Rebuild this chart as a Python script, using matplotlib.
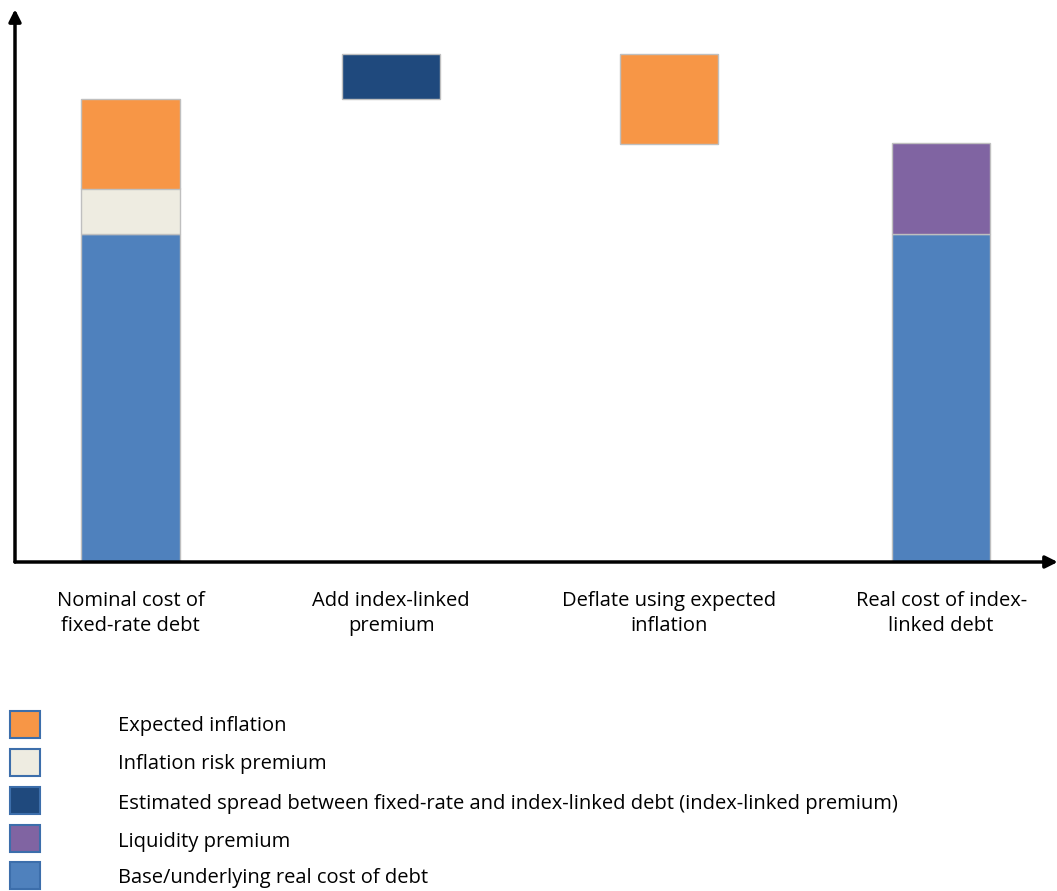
import matplotlib.pyplot as plt
from matplotlib.patches import Rectangle
import numpy as np

# categories and component values (units: % points, roughly)
categories = ["Nominal cost of\nfixed-rate debt", "Add index-linked\npremium",
              "Deflate using expected\ninflation", "Real cost of index-\nlinked debt"]
base_cost = 3.65
inflation_risk = 0.5
expected_inflation = 1.0
spread = 0.49
liquidity = 1.0

legend_labels = ["Expected inflation", "Inflation risk premium",
                 "Estimated spread between fixed-rate and index-linked debt (index-linked premium)",
                 "Liquidity premium", "Base/underlying real cost of debt"]

c_orange = "#F79646"
c_cream = "#EEECE1"
c_navy = "#1F497D"
c_purple = "#8064A2"
c_blue = "#4F81BD"
edge = "#BFBFBF"

plt.rcParams['font.family'] = ['Open Sans', 'DejaVu Sans']

fig = plt.figure(figsize=(10.57, 8.91), dpi=100)
W, H = 1057, 891
ax = fig.add_axes([15 / W, (H - 562) / H, (1050 - 15) / W, (562 - 12) / H])

# bar centres (slightly uneven spacing, as in the original slide)
x = np.array([0, 0.965, 1.994, 3])
w = 0.363
kw = dict(width=w, edgecolor=edge, linewidth=1)

nominal_top = base_cost + inflation_risk + expected_inflation

# bar 1: stacked nominal cost
ax.bar(x[0], base_cost, color=c_blue, **kw)
ax.bar(x[0], inflation_risk, bottom=base_cost, color=c_cream, **kw)
ax.bar(x[0], expected_inflation, bottom=base_cost + inflation_risk, color=c_orange, **kw)
# bar 2: add index-linked premium
ax.bar(x[1], spread, bottom=nominal_top, color=c_navy, **kw)
# bar 3: deflate
ax.bar(x[2], expected_inflation, bottom=nominal_top + spread - expected_inflation, color=c_orange, **kw)
# bar 4: real cost
ax.bar(x[3], base_cost, color=c_blue, **kw)
ax.bar(x[3], liquidity, bottom=base_cost, color=c_purple, **kw)

ax.set_xlim((15 - 130.5) / 270.2, (1050 - 130.5) / 270.2)
ax.set_ylim(0, 550 / 90)
for s in ax.spines.values():
    s.set_visible(False)
ax.set_yticks([])
ax.set_xticks(x)
ax.set_xticklabels(categories, fontsize=14.5, linespacing=1.3)
ax.tick_params(axis='x', length=0, pad=21)

# arrow axes
ax.annotate("", xy=(0, 1.005), xytext=(0, 0), xycoords='axes fraction',
            arrowprops=dict(arrowstyle='-|>', color='black', lw=2.5, mutation_scale=18, shrinkA=0, shrinkB=0))
ax.annotate("", xy=(1.0075, 0), xytext=(0, 0), xycoords='axes fraction',
            arrowprops=dict(arrowstyle='-|>', color='black', lw=2.5, mutation_scale=18, shrinkA=0, shrinkB=0))

# legend drawn manually
leg_colors = [c_orange, c_cream, c_navy, c_purple, c_blue]
leg_y = [724, 762, 800, 838, 875]
text_y = [726, 764, 804, 842, 878]
for col, yc, ty, lab in zip(leg_colors, leg_y, text_y, legend_labels):
    fig.patches.append(Rectangle((10 / W, (H - yc - 13.5) / H), 30 / W, 27 / H,
                                 transform=fig.transFigure, facecolor=col,
                                 edgecolor="#3C6EAB", linewidth=1.5))
    fig.text(118 / W, (H - ty) / H, lab, fontsize=14.5, va='center', ha='left')

fig.savefig("out.png", dpi=100)
